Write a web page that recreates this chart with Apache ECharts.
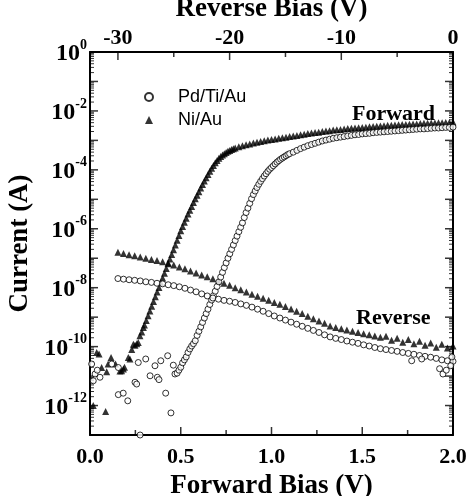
<!DOCTYPE html>
<html><head><meta charset="utf-8">
<script src="https://cdn.jsdelivr.net/npm/echarts@6/dist/echarts.min.js"></script>
<style>html,body{margin:0;padding:0;background:#fff}#c{width:471px;height:496px}</style>
</head><body><div id="c"></div><script>
// ---- data: [voltage (V), log10(current / A)] ----
const pdTiAuForward = [
[0.009,-10.59],[0.018,-11.16],[0.028,-10.93],[0.04,-10.8],[0.055,-11.04],[0.12,-10.59],[0.156,-10.71],[0.156,-11.63],
[0.183,-11.58],[0.208,-11.84],[0.248,-11.21],[0.257,-11.27],[0.266,-10.54],[0.276,-13.0],[0.307,-10.42],[0.331,-10.99],
[0.358,-10.65],[0.371,-11.04],[0.38,-11.12],[0.39,-10.48],[0.417,-11.58],[0.428,-10.31],[0.446,-12.25],[0.459,-10.63],[0.468,-10.93],
[0.48,-10.9],[0.49,-10.8],[0.50,-10.7],[0.51,-10.55],[0.52,-10.45],[0.53,-10.35],[0.54,-10.2],[0.55,-10.08],[0.56,-9.98],
[0.57,-9.9],[0.58,-9.8],[0.59,-9.62],[0.60,-9.48],[0.61,-9.33],[0.62,-9.18],[0.63,-9.03],[0.64,-8.88],[0.65,-8.73],
[0.66,-8.57],[0.67,-8.42],[0.68,-8.27],[0.69,-8.12],[0.70,-7.96],[0.71,-7.8],[0.72,-7.64],[0.73,-7.48],[0.74,-7.32],
[0.75,-7.16],[0.76,-7.0],[0.77,-6.85],[0.78,-6.7],[0.79,-6.55],[0.80,-6.4],[0.81,-6.25],[0.82,-6.1],[0.83,-5.95],
[0.84,-5.8],[0.85,-5.62],[0.86,-5.45],[0.87,-5.3],[0.88,-5.14],[0.89,-4.98],[0.90,-4.84],[0.91,-4.72],[0.92,-4.6],
[0.93,-4.49],[0.94,-4.39],[0.95,-4.3],[0.96,-4.21],[0.97,-4.13],[0.98,-4.05],[0.99,-3.98],[1.00,-3.92],[1.01,-3.86],
[1.02,-3.8],[1.03,-3.74],[1.04,-3.69],[1.05,-3.64],[1.06,-3.6],[1.07,-3.56],[1.08,-3.52],[1.09,-3.48],[1.10,-3.45],
[1.12,-3.4],[1.14,-3.34],[1.16,-3.28],[1.18,-3.23],[1.20,-3.18],[1.22,-3.14],[1.24,-3.1],[1.26,-3.06],[1.28,-3.02],
[1.30,-2.99],[1.32,-2.96],[1.34,-2.93],[1.36,-2.91],[1.38,-2.89],[1.40,-2.87],[1.42,-2.85],[1.44,-2.83],[1.46,-2.81],
[1.48,-2.8],[1.50,-2.78],[1.52,-2.77],[1.54,-2.76],[1.56,-2.74],[1.58,-2.73],[1.60,-2.72],[1.62,-2.71],[1.64,-2.7],
[1.66,-2.69],[1.68,-2.68],[1.70,-2.67],[1.72,-2.66],[1.74,-2.65],[1.76,-2.64],[1.78,-2.63],[1.80,-2.62],[1.82,-2.61],
[1.84,-2.61],[1.86,-2.6],[1.88,-2.59],[1.90,-2.58],[1.92,-2.58],[1.94,-2.57],[1.96,-2.56],[1.98,-2.56],[2.00,-2.55]
];
const niAuForward = [
[0.018,-12.0],[0.037,-10.2],[0.05,-10.25],[0.064,-10.71],[0.086,-12.2],[0.092,-10.85],[0.10,-10.59],[0.116,-10.37],
[0.141,-10.59],[0.165,-10.83],[0.174,-10.82],[0.184,-10.76],[0.19,-10.7],[0.211,-10.37],[0.22,-10.42],[0.23,-10.1],
[0.239,-9.92],[0.248,-9.95],[0.258,-9.9],[0.266,-9.86],[0.275,-9.63],[0.285,-9.5],[0.294,-9.35],
[0.30,-9.27],[0.31,-9.11],[0.32,-8.95],[0.33,-8.79],[0.34,-8.63],[0.35,-8.47],[0.36,-8.31],[0.37,-8.15],[0.38,-7.99],
[0.39,-7.83],[0.40,-7.67],[0.41,-7.51],[0.42,-7.35],[0.43,-7.19],[0.44,-7.03],[0.45,-6.87],[0.46,-6.71],[0.47,-6.55],
[0.48,-6.39],[0.49,-6.23],[0.50,-6.07],[0.51,-5.92],[0.52,-5.78],[0.53,-5.64],[0.54,-5.5],[0.55,-5.37],[0.56,-5.24],
[0.57,-5.11],[0.58,-4.98],[0.59,-4.86],[0.60,-4.74],[0.61,-4.62],[0.62,-4.5],[0.63,-4.38],[0.64,-4.27],[0.65,-4.16],
[0.66,-4.05],[0.67,-3.95],[0.68,-3.85],[0.69,-3.76],[0.70,-3.68],[0.71,-3.61],[0.72,-3.55],[0.73,-3.5],[0.74,-3.45],
[0.75,-3.41],[0.76,-3.37],[0.77,-3.34],[0.78,-3.31],[0.79,-3.28],[0.80,-3.26],
[0.82,-3.22],[0.84,-3.18],[0.86,-3.15],[0.88,-3.12],[0.90,-3.09],[0.92,-3.06],[0.94,-3.04],[0.96,-3.01],[0.98,-2.99],
[1.00,-2.97],[1.02,-2.95],[1.04,-2.93],[1.06,-2.91],[1.08,-2.89],[1.10,-2.87],[1.12,-2.85],[1.14,-2.83],[1.16,-2.81],
[1.18,-2.79],[1.20,-2.77],[1.22,-2.75],[1.24,-2.73],[1.26,-2.72],[1.28,-2.7],[1.30,-2.68],[1.32,-2.67],[1.34,-2.65],
[1.36,-2.64],[1.38,-2.63],[1.40,-2.61],[1.42,-2.6],[1.44,-2.59],[1.46,-2.58],[1.48,-2.57],[1.50,-2.56],[1.52,-2.55],
[1.54,-2.54],[1.56,-2.53],[1.58,-2.52],[1.60,-2.51],[1.62,-2.5],[1.64,-2.49],[1.66,-2.49],[1.68,-2.48],[1.70,-2.47],
[1.72,-2.46],[1.74,-2.46],[1.76,-2.45],[1.78,-2.44],[1.80,-2.44],[1.82,-2.43],[1.84,-2.42],[1.86,-2.42],[1.88,-2.41],
[1.90,-2.41],[1.92,-2.4],[1.94,-2.4],[1.96,-2.39],[1.98,-2.39],[2.00,-2.38]
];
const pdTiAuReverse = [
[-30,-7.69],[-29.5,-7.71],[-29,-7.73],[-28.5,-7.75],[-28,-7.77],[-27.5,-7.8],[-27,-7.82],[-26.5,-7.85],[-26,-7.87],
[-25.5,-7.9],[-25,-7.93],[-24.5,-7.97],[-24,-8.02],[-23.5,-8.08],[-23,-8.14],[-22.5,-8.21],[-22,-8.28],[-21.5,-8.35],
[-21,-8.39],[-20.5,-8.43],[-20,-8.46],[-19.5,-8.5],[-19,-8.55],[-18.5,-8.6],[-18,-8.66],[-17.5,-8.73],[-17,-8.8],
[-16.5,-8.88],[-16,-8.96],[-15.5,-9.03],[-15,-9.1],[-14.5,-9.17],[-14,-9.24],[-13.5,-9.31],[-13,-9.38],[-12.5,-9.45],
[-12,-9.52],[-11.5,-9.6],[-11,-9.67],[-10.5,-9.72],[-10,-9.76],[-9.5,-9.81],[-9,-9.85],[-8.5,-9.89],[-8,-9.94],
[-7.5,-9.98],[-7,-10.03],[-6.5,-10.07],[-6,-10.1],[-5.5,-10.13],[-5,-10.16],[-4.5,-10.2],[-4,-10.23],[-3.5,-10.26],
[-3,-10.3],[-2.5,-10.33],[-2,-10.36],[-1.5,-10.4],[-1,-10.45],[-0.5,-10.48],[0,-10.5],
[-3.7,-10.48],[-2.8,-10.42],[-1.2,-10.75],[-0.9,-10.93],[-0.6,-10.8],[-0.2,-10.65],[-0.1,-10.35]
];
const niAuReverse = [
[-30,-6.8],[-29.5,-6.84],[-29,-6.88],[-28.5,-6.92],[-28,-6.96],[-27.5,-7.0],[-27,-7.04],[-26.5,-7.08],[-26,-7.12],
[-25.5,-7.16],[-25,-7.23],[-24.5,-7.3],[-24,-7.36],[-23.5,-7.43],[-23,-7.5],[-22.5,-7.57],[-22,-7.63],[-21.5,-7.7],
[-21,-7.77],[-20.5,-7.85],[-20,-7.92],[-19.5,-8.0],[-19,-8.07],[-18.5,-8.15],[-18,-8.22],[-17.5,-8.29],[-17,-8.36],
[-16.5,-8.43],[-16,-8.5],[-15.5,-8.56],[-15,-8.64],[-14.5,-8.72],[-14,-8.8],[-13.5,-8.88],[-13,-8.97],[-12.5,-9.05],
[-12,-9.13],[-11.5,-9.21],[-11,-9.3],[-10.5,-9.35],[-10,-9.39],[-9.5,-9.44],[-9,-9.48],[-8.5,-9.52],[-8,-9.56],
[-7.5,-9.6],[-7,-9.64],[-6.5,-9.68],[-6,-9.65],[-5.5,-9.78],[-5,-9.72],[-4.5,-9.85],[-4,-9.76],[-3.5,-9.9],
[-3,-9.82],[-2.5,-9.95],[-2,-9.88],[-1.5,-10.02],[-1,-9.92],[-0.5,-10.05],[0,-9.98]
];
// tick positions
const bottomTicksMajor = [0, 0.5, 1.0, 1.5, 2.0];
const bottomTicksMinor = [0.25, 0.75, 1.25, 1.75];
const topTicksMajor = [-30, -20, -10, 0];
const topTicksMinor = [-25, -15, -5];
const yTicksMajor = [-13, -12, -11, -10, -9, -8, -7, -6, -5, -4, -3, -2, -1, 0];
const seriesNames = ['Pd/Ti/Au', 'Ni/Au'];

// ---- chart (y axis in decades: value = log10 of current) ----
const serif = 'Liberation Serif';
const X0 = 0, X1 = 2, Y0 = -13, Y1 = 0;
const yTicksMinor = [];
for (let n = -13; n < 0; n++) for (let k = 2; k <= 9; k++) yTicksMinor.push(n + Math.log10(k));
function axLine() { return {show: true, onZero: false, lineStyle: {color: '#000', width: 2}}; }
function lbl(extra) { return Object.assign({fontFamily: serif, fontWeight: 'bold', fontSize: 22, color: '#000'}, extra); }
function nameFont() { return {fontFamily: serif, fontWeight: 'bold', fontSize: 27, color: '#000'}; }
function tickSeries(xi, data, size, offset) {
  return {type: 'scatter', xAxisIndex: xi, yAxisIndex: 0, data: data, symbol: 'rect', symbolSize: size,
    symbolOffset: offset, itemStyle: {color: '#000'}, silent: true, clip: false, z: 1, animation: false};
}
const yRich = {
  b: {fontFamily: serif, fontWeight: 'bold', fontSize: 24, color: '#000', lineHeight: 28, verticalAlign: 'bottom'},
  s: {fontFamily: serif, fontWeight: 'bold', fontSize: 14, color: '#000', lineHeight: 28, verticalAlign: 'top'}
};

const chart = echarts.init(document.getElementById('c'));
chart.setOption({
  animation: false,
  backgroundColor: '#fff',
  grid: {left: 90, right: 18, top: 52, bottom: 61, outerBoundsMode: 'none'},
  xAxis: [
    {type: 'value', position: 'bottom', min: X0, max: X1, interval: 0.5,
     axisLine: axLine(), splitLine: {show: false}, axisTick: {show: false},
     axisLabel: lbl({margin: 11, formatter: v => v.toFixed(1)}),
     name: 'Forward Bias (V)', nameLocation: 'middle', nameGap: 35, nameTextStyle: nameFont()},
    {type: 'value', position: 'top', min: -32.5, max: 0,
     axisLine: axLine(), splitLine: {show: false}, axisTick: {show: false},
     axisLabel: lbl({margin: 3, formatter: v => (Math.abs(v % 10) < 1e-9 ? String(Math.round(v)) : '')}),
     name: 'Reverse Bias (V)', nameLocation: 'middle', nameGap: 26, nameTextStyle: nameFont()}
  ],
  yAxis: [
    {type: 'value', min: Y0, max: Y1, interval: 1, position: 'left',
     axisLine: axLine(), splitLine: {show: false}, axisTick: {show: false},
     axisLabel: {margin: 3, rich: yRich,
       formatter: v => (Math.round(v) % 2 === 0 ? '{b|10}{s|' + Math.round(v) + '}' : '')},
     name: 'Current (A)', nameLocation: 'middle', nameGap: 39, nameRotate: 90, nameTextStyle: nameFont()},
    {type: 'value', min: Y0, max: Y1, interval: 1, position: 'right',
     axisLine: axLine(), splitLine: {show: false}, axisTick: {show: false}, axisLabel: {show: false}}
  ],
  legend: {show: true, orient: 'vertical', left: 139, top: 83, itemWidth: 8, itemHeight: 8, itemGap: 5,
    selectedMode: false,
    data: [{name: seriesNames[0]}, {name: seriesNames[1]}],
    textStyle: {fontFamily: 'Liberation Sans', fontSize: 18, color: '#000', lineHeight: 18, padding: [0, 0, 0, 20]}},
  series: [
    tickSeries(0, bottomTicksMajor.map(v => [v, Y0]), [1.5, 8], [0, -4]),
    tickSeries(0, bottomTicksMinor.map(v => [v, Y0]), [1.5, 5], [0, -2.5]),
    tickSeries(1, topTicksMajor.map(v => [v, Y1]), [1.5, 8], [0, 4]),
    tickSeries(1, topTicksMinor.map(v => [v, Y1]), [1.5, 5], [0, 2.5]),
    tickSeries(0, yTicksMajor.map(v => [X0, v]), [8, 1.5], [4, 0]),
    tickSeries(0, yTicksMinor.map(v => [X0, v]), [4, 1], [2, 0]),
    tickSeries(0, yTicksMajor.map(v => [X1, v]), [8, 1.5], [-4, 0]),
    tickSeries(0, yTicksMinor.map(v => [X1, v]), [4, 1], [-2, 0]),
    {name: seriesNames[1], type: 'scatter', xAxisIndex: 0, yAxisIndex: 0, data: niAuForward,
     symbol: 'triangle', symbolSize: 7, itemStyle: {color: '#000'}},
    {name: seriesNames[1], type: 'scatter', xAxisIndex: 1, yAxisIndex: 0, data: niAuReverse,
     symbol: 'triangle', symbolSize: 7, itemStyle: {color: '#000'}},
    {name: seriesNames[0], type: 'scatter', xAxisIndex: 0, yAxisIndex: 0, data: pdTiAuForward,
     symbol: 'circle', symbolSize: 6, itemStyle: {color: '#fff', borderColor: '#000', borderWidth: 1}},
    {name: seriesNames[0], type: 'scatter', xAxisIndex: 1, yAxisIndex: 0, data: pdTiAuReverse,
     symbol: 'circle', symbolSize: 6, itemStyle: {color: '#fff', borderColor: '#000', borderWidth: 1}}
  ],
  graphic: [
    {type: 'text', left: 352, top: 103, style: {text: 'Forward', font: 'bold 22px "Liberation Serif"', fill: '#000'}},
    {type: 'text', left: 356, top: 307, style: {text: 'Reverse', font: 'bold 22px "Liberation Serif"', fill: '#000'}}
  ]
});
</script></body></html>
